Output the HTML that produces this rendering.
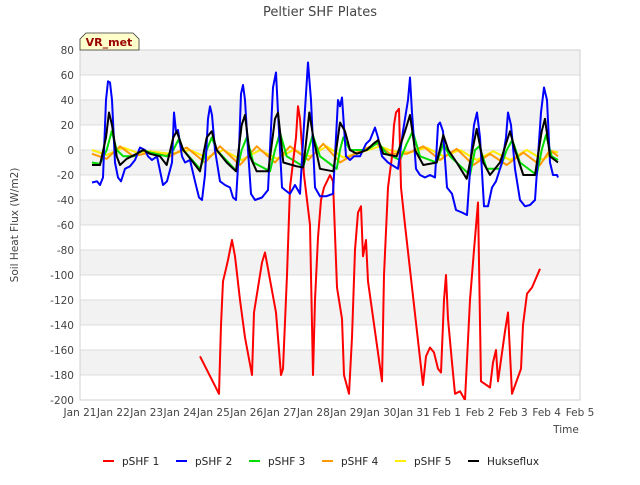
<!DOCTYPE html>
<html><head><meta charset="utf-8"><style>
body{margin:0;background:#fff;font-family:"Liberation Sans","DejaVu Sans",sans-serif}
svg text{font-family:"DejaVu Sans","Liberation Sans",sans-serif}
</style></head><body>
<svg id="c" width="640" height="480" xmlns="http://www.w3.org/2000/svg"></svg>
<script>
const xTickLabels=["Jan 21","Jan 22","Jan 23","Jan 24","Jan 25","Jan 26","Jan 27","Jan 28","Jan 29","Jan 30","Jan 31","Feb 1","Feb 2","Feb 3","Feb 4","Feb 5"];
const yTicks=[80,60,40,20,0,-20,-40,-60,-80,-100,-120,-140,-160,-180,-200];
const seriesNames=["pSHF 1","pSHF 2","pSHF 3","pSHF 4","pSHF 5","Hukseflux"];
const seriesColors=["#ff0000","#0000ff","#00dd00","#ff9900","#ffee00","#000000"];
const pshf1=[[3.6,-165],[4.17,-195],[4.23,-140],[4.29,-105],[4.38,-95],[4.44,-88],[4.5,-80],[4.56,-72],[4.65,-85],[4.8,-120],[4.95,-150],[5.16,-180],[5.22,-130],[5.34,-110],[5.46,-90],[5.55,-82],[5.64,-95],[5.88,-130],[6.03,-180],[6.09,-175],[6.21,-100],[6.3,-30],[6.39,-10],[6.48,10],[6.54,35],[6.6,25],[6.72,-20],[6.9,-60],[6.99,-180],[7.05,-120],[7.14,-70],[7.23,-40],[7.32,-30],[7.41,-25],[7.5,-20],[7.59,-25],[7.71,-110],[7.86,-135],[7.92,-180],[8.07,-195],[8.16,-150],[8.25,-80],[8.34,-50],[8.43,-45],[8.49,-85],[8.58,-72],[8.64,-105],[9.06,-185],[9.12,-100],[9.24,-30],[9.36,-5],[9.42,20],[9.48,30],[9.57,33],[9.63,-30],[9.75,-60],[10.29,-188],[10.38,-165],[10.5,-158],[10.62,-162],[10.74,-175],[10.83,-178],[10.92,-120],[10.98,-100],[11.04,-135],[11.16,-170],[11.25,-195],[11.4,-193],[11.55,-200],[11.7,-120],[11.82,-80],[11.94,-42],[12.03,-185],[12.3,-190],[12.39,-170],[12.48,-160],[12.54,-185],[12.75,-145],[12.84,-130],[12.96,-195],[13.23,-175],[13.29,-140],[13.41,-115],[13.56,-110],[13.8,-95]];
const pshf2=[[0.36,-26],[0.51,-25],[0.6,-28],[0.69,-22],[0.78,40],[0.84,55],[0.9,54],[0.96,40],[1.05,-10],[1.14,-22],[1.23,-25],[1.35,-15],[1.5,-13],[1.65,-8],[1.8,2],[1.95,0],[2.04,-5],[2.16,-8],[2.31,-5],[2.49,-28],[2.61,-25],[2.76,-10],[2.82,30],[2.88,15],[2.94,16],[3.06,-5],[3.15,-10],[3.3,-8],[3.45,-25],[3.57,-38],[3.66,-40],[3.75,-20],[3.84,25],[3.9,35],[3.96,28],[4.05,0],[4.2,-25],[4.35,-28],[4.5,-30],[4.59,-38],[4.68,-40],[4.77,0],[4.83,45],[4.89,52],[4.95,40],[5.04,0],[5.13,-35],[5.25,-40],[5.46,-38],[5.64,-32],[5.79,50],[5.88,62],[5.94,30],[6.06,-30],[6.15,-32],[6.3,-35],[6.45,-28],[6.6,-35],[6.72,20],[6.84,70],[6.93,40],[7.05,-30],[7.2,-37],[7.38,-37],[7.59,-35],[7.74,40],[7.8,35],[7.86,42],[7.98,-5],[8.1,-8],[8.22,-5],[8.4,-5],[8.58,5],[8.7,8],[8.85,18],[8.94,10],[9.06,-5],[9.24,-10],[9.54,-15],[9.69,15],[9.84,40],[9.9,58],[9.96,30],[10.08,-15],[10.2,-20],[10.35,-22],[10.5,-20],[10.65,-22],[10.74,20],[10.8,22],[10.89,15],[11.01,-30],[11.16,-35],[11.28,-48],[11.46,-50],[11.61,-52],[11.73,-5],[11.82,20],[11.91,30],[12.0,10],[12.12,-45],[12.24,-45],[12.36,-30],[12.48,-25],[12.66,-10],[12.78,10],[12.84,30],[12.93,20],[13.05,-15],[13.2,-40],[13.35,-45],[13.5,-44],[13.65,-40],[13.74,-5],[13.83,30],[13.92,50],[14.01,40],[14.1,-10],[14.19,-20],[14.31,-20],[14.34,-22]];
const pshf3=[[0.36,-10],[0.6,-11],[0.8,0],[0.95,15],[1.1,0],[1.3,-5],[1.6,-5],[1.9,0],[2.1,-2],[2.6,-5],[2.8,0],[2.95,8],[3.1,0],[3.6,-15],[3.8,0],[3.95,10],[4.1,0],[4.7,-17],[4.85,0],[5.0,10],[5.2,-10],[5.7,-17],[5.85,0],[6.0,14],[6.2,-5],[6.7,-13],[6.85,0],[6.98,12],[7.2,-5],[7.7,-15],[7.8,0],[7.9,10],[8.1,0],[8.6,0],[8.95,6],[9.2,-3],[9.6,-8],[9.8,5],[9.98,15],[10.2,-5],[10.7,-10],[10.9,5],[11.1,-5],[11.7,-20],[11.85,0],[11.98,3],[12.2,-15],[12.6,-15],[12.8,0],[12.97,8],[13.2,-10],[13.7,-20],[13.85,0],[13.98,12],[14.15,-5],[14.34,-8]];
const pshf4=[[0.36,-3],[0.8,-7],[1.2,3],[1.6,-5],[2.1,-2],[2.7,-5],[3.2,2],[3.75,-10],[4.2,3],[4.8,-12],[5.3,3],[5.85,-10],[6.3,3],[6.85,-8],[7.3,5],[7.8,-10],[8.3,-2],[8.9,5],[9.3,-3],[9.8,-3],[10.3,3],[10.8,-8],[11.3,1],[11.8,-12],[12.3,-3],[12.8,-12],[13.3,-2],[13.8,-12],[14.1,0],[14.34,-5]];
const pshf5=[[0.36,0],[0.8,-4],[1.3,2],[1.7,-2],[2.1,-1],[2.7,-3],[3.3,0],[3.8,-6],[4.3,0],[4.85,-8],[5.4,0],[5.9,-7],[6.4,0],[6.9,-5],[7.4,3],[7.9,-6],[8.4,-2],[9.0,3],[9.4,-1],[9.9,-2],[10.4,2],[10.9,-5],[11.4,0],[11.9,-8],[12.4,-1],[12.9,-8],[13.4,0],[13.9,-8],[14.2,-1],[14.34,-2]];
const huks=[[0.36,-12],[0.6,-12],[0.78,10],[0.87,30],[0.96,20],[1.1,-5],[1.2,-12],[1.4,-7],[1.7,-3],[1.9,0],[2.1,-3],[2.4,-5],[2.6,-12],[2.8,10],[2.9,15],[3.1,0],[3.4,-10],[3.6,-17],[3.8,10],[3.95,15],[4.1,0],[4.4,-10],[4.68,-17],[4.85,20],[4.95,28],[5.1,-5],[5.3,-17],[5.65,-17],[5.85,25],[5.94,30],[6.1,-10],[6.5,-13],[6.7,-14],[6.88,30],[7.0,10],[7.2,-15],[7.6,-17],[7.8,22],[7.95,15],[8.1,0],[8.3,-3],[8.6,0],[8.8,5],[8.95,8],[9.1,-3],[9.5,-5],[9.75,15],[9.9,28],[10.05,0],[10.3,-12],[10.7,-10],[10.9,12],[11.05,0],[11.3,-10],[11.6,-23],[11.9,17],[12.1,-10],[12.3,-20],[12.6,-10],[12.9,15],[13.05,0],[13.3,-20],[13.65,-20],[13.85,15],[13.95,25],[14.1,-5],[14.34,-10]];
const allSeries=[pshf1,pshf2,pshf3,pshf4,pshf5,huks];

const NS="http://www.w3.org/2000/svg";
const svg=document.getElementById('c');
const L=80,R=580,T=50,B=400,YMAX=80,YMIN=-200,DMAX=15;
const xs=d=>L+(R-L)*d/DMAX;
const ys=v=>T+(B-T)*(YMAX-v)/(YMAX-YMIN);
function mk(tag,attrs,parent){const e=document.createElementNS(NS,tag);for(const k in attrs)e.setAttribute(k,attrs[k]);(parent||svg).appendChild(e);return e;}

let t=mk('text',{x:320,y:16,'text-anchor':'middle','font-size':13,fill:'#444'});t.textContent='Peltier SHF Plates';


const plot=mk('g',{});

mk('rect',{x:L,y:T,width:R-L,height:B-T,fill:'#fff'},plot);
for(let i=0;i<yTicks.length-1;i++){
  const v=yTicks[i];
  if(((80-v)/20)%2===0){const r=mk('rect',{x:L,y:ys(v),width:R-L,height:ys(v-20)-ys(v),fill:'#f2f2f2'},plot);
  }
}
yTicks.forEach(v=>{
  const g=mk('line',{x1:L,x2:R,y1:ys(v),y2:ys(v),stroke:'#dcdcdc','stroke-width':1},plot);
  
  const tx=mk('text',{x:L-6,y:ys(v)+4,'text-anchor':'end','font-size':10.5,fill:'#444'});tx.textContent=v;
  
});
mk('rect',{x:L,y:T,width:R-L,height:B-T,fill:'none',stroke:'#d0d0d0'},plot);
xTickLabels.forEach((s,i)=>{
  const tx=mk('text',{x:xs(i),y:416,'text-anchor':'middle','font-size':10.5,fill:'#444'});tx.textContent=s;
  
});
t=mk('text',{x:566,y:433,'text-anchor':'middle','font-size':10.5,fill:'#444'});t.textContent='Time';

t=mk('text',{x:18,y:225,'text-anchor':'middle','font-size':10.5,fill:'#444',transform:'rotate(-90 18 225)'});t.textContent='Soil Heat Flux (W/m2)';


const clip=mk('clipPath',{id:'cp'});mk('rect',{x:L,y:T,width:R-L,height:B-T},clip);
const lines=mk('g',{'clip-path':'url(#cp)'});
const order=[4,3,2,0,1,5];
order.forEach(i=>{
  const d=allSeries[i].map((p,j)=>(j?'L':'M')+xs(p[0]).toFixed(1)+','+ys(p[1]).toFixed(1)).join(' ');
  const p=mk('path',{d:d,fill:'none',stroke:seriesColors[i],'stroke-width':2,'stroke-linejoin':'round'},lines);
  
  
});

const badge=mk('g',{});

mk('path',{d:'M86,33 L133,33 L139,39 L139,50 L80,50 L80,39 Z',fill:'#ffffcc',stroke:'#333','stroke-width':0.8},badge);
t=mk('text',{x:109,y:46,'text-anchor':'middle','font-size':11,'font-weight':'bold',fill:'#990000'},badge);t.textContent='VR_met';

const lx=[103,176,249,322,395,468];
seriesNames.forEach((n,i)=>{
  const g=mk('g',{});
  
  mk('line',{x1:lx[i],x2:lx[i]+11,y1:461,y2:461,stroke:seriesColors[i],'stroke-width':2},g);
  const tx=mk('text',{x:lx[i]+19,y:465,'font-size':10.5,fill:'#222'},g);tx.textContent=n;
});
</script>
</body></html>
